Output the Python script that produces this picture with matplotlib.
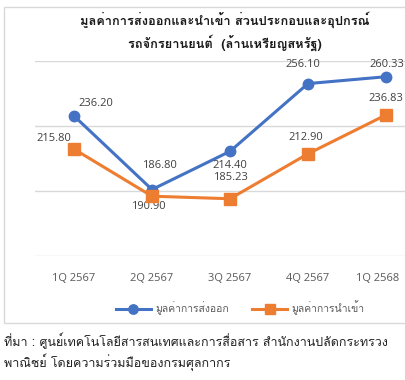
import matplotlib
matplotlib.use("Agg")
import matplotlib.pyplot as plt
from matplotlib.patches import Rectangle
from matplotlib.transforms import ScaledTranslation

THAI = ["Loma", "DejaVu Sans"]
plt.rcParams["font.family"] = ["Open Sans", "DejaVu Sans"]

quarters = ["1Q 2567", "2Q 2567", "3Q 2567", "4Q 2567", "1Q 2568"]
export_vals = [236.20, 190.90, 214.40, 256.10, 260.33]
import_vals = [215.80, 186.80, 185.23, 212.90, 236.83]
export_name = "มูลค่าการส่งออก"
import_name = "มูลค่าการนำเข้า"
title = "มูลค่าการส่งออกและนำเข้า ส่วนประกอบและอุปกรณ์\nรถจักรยานยนต์  (ล้านเหรียญสหรัฐ)"
source = ("ที่มา : ศูนย์เทคโนโลยีสารสนเทศและการสื่อสาร สำนักงานปลัดกระทรวง\n"
          "พาณิชย์ โดยความร่วมมือของกรมศุลกากร")

# label offsets in pixels (dx, dy), hand-placed like the original
export_off = [(22, 12), (-4, -17), (0, -14), (-5, 19), (1, 12)]
import_off = [(-20, 11), (7, 31), (0, 21), (-2, 16), (0, 16)]

BLUE = "#4472C4"
ORANGE = "#ED7D31"
GRID = "#D9D9D9"

W, H = 406, 380
fig = plt.figure(figsize=(W / 100, H / 100), dpi=100)

# chart frame (right edge cropped in the original)
fig.patches.append(Rectangle((4.5 / W, 1 - 322.5 / H), 0.99, (322.5 - 7) / H,
                             transform=fig.transFigure, fill=False,
                             edgecolor=GRID, linewidth=1))

ax = fig.add_axes([35 / W, 1 - 256 / H, 390 / W, 195 / H])
x = range(len(quarters))
ax.plot(x, export_vals, color=BLUE, lw=2.2, marker="o", ms=7.5, label=export_name, zorder=3)
ax.plot(x, import_vals, color=ORANGE, lw=2.2, marker="s", ms=8, label=import_name, zorder=4)

for i, v in enumerate(export_vals):
    ax.annotate(f"{v:.2f}", (i, v), xytext=export_off[i], textcoords="offset pixels",
                ha="center", va="center", fontsize=8, color="#404040")
for i, v in enumerate(import_vals):
    ax.annotate(f"{v:.2f}", (i, v), xytext=import_off[i], textcoords="offset pixels",
                ha="center", va="center", fontsize=8, color="#404040")

ax.set_xlim(-0.5, 4.5)
ax.set_ylim(150, 270)
ax.set_yticks([150, 190, 230, 270])
ax.set_xticks(list(x))
ax.set_xticklabels(quarters, fontsize=8, color="#595959")
ax.tick_params(axis="x", length=0, pad=12)
ax.tick_params(axis="y", length=0, labelleft=False)
ax.grid(axis="y", color=GRID, lw=1)
for s in ax.spines.values():
    s.set_visible(False)
ax.set_axisbelow(True)
# last label pulled inside the frame, as Excel does
last = ax.get_xticklabels()[-1]
last.set_transform(last.get_transform() + ScaledTranslation(-0.08, 0, fig.dpi_scale_trans))

fig.text(225 / W, 1 - 31.5 / H, title, ha="center", va="center", fontsize=9.2,
         fontweight="bold", color="#1a1a1a", linespacing=1.5, family=THAI)

fig.legend(loc="center", bbox_to_anchor=(240 / W, 1 - 308 / H), ncol=2, frameon=False,
           prop={"family": THAI, "size": 7.5}, handlelength=3.4, handletextpad=0.4,
           columnspacing=2.2, labelcolor="#595959", markerscale=0.9)

fig.text(4 / W, 1 - 352 / H, source, ha="left", va="center", fontsize=9,
         color="#222222", linespacing=1.35, family=THAI)

fig.savefig("out.png", dpi=100)
